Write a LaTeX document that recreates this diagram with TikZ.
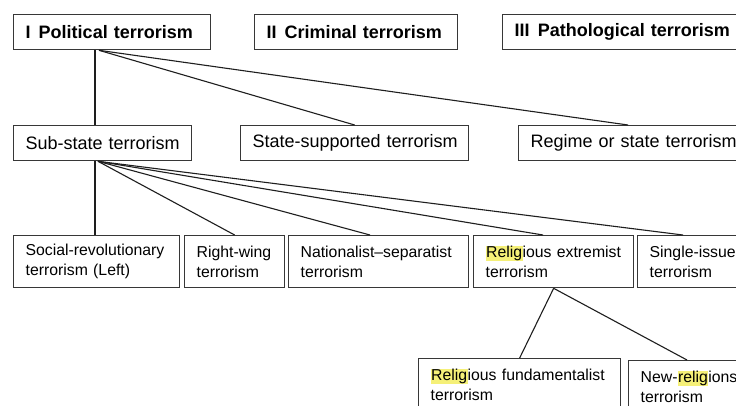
\documentclass[tikz,border=0pt]{standalone}
\usepackage{fontspec}
\setmainfont{Liberation Sans}
\definecolor{hlyellow}{RGB}{245,240,120}
\definecolor{boxline}{RGB}{55,55,55}
\definecolor{linkline}{RGB}{30,30,30}
\newcommand{\hlt}[1]{{\setlength{\fboxsep}{0.5pt}\colorbox{hlyellow}{#1}}}
\begin{document}
\begin{tikzpicture}[x=1pt,y=-1pt,
  box/.style={draw=boxline,line width=1.3pt,anchor=north west,inner xsep=12pt,inner ysep=0pt,
    align=left,execute at begin node={\hyphenpenalty=10000\exhyphenpenalty=10000}},
  topbox/.style={box,minimum height=35pt,font=\fontsize{18}{22}\selectfont\bfseries},
  midbox/.style={box,minimum height=35pt,font=\fontsize{18}{22}\selectfont},
  lowbox/.style={box,minimum height=52pt,font=\fontsize{15.8}{20}\selectfont},
  link/.style={draw=linkline,line width=1.1pt}]
\clip (0,0) rectangle (736,405);
\fill[white] (0,0) rectangle (736,405);
\node[topbox,text width=173pt] (pol) at (13,14) {I\hspace{0.45em}Political~terrorism};
\node[topbox,text width=179pt] (cri) at (254,14) {II\hspace{0.45em}Criminal~terrorism};
\node[topbox,text width=226pt] (pat) at (502,14) {III\hspace{0.45em}Pathological~terrorism};
\node[midbox,text width=154pt] (sub) at (13,125) {Sub-state~terrorism};
\node[midbox,text width=204pt] (sst) at (240,125) {State-supported~terrorism};
\node[midbox,text width=220pt] (reg) at (518,125) {Regime~or~state~terrorism};
\node[lowbox,text width=142pt] (soc) at (13,235) {Social-revolutionary\\terrorism~(Left)};
\node[lowbox,text width=76pt] (rgt) at (184,235) {Right-wing\\terrorism};
\node[lowbox,text width=156pt] (nat) at (288,235) {Nationalist--separatist\\terrorism};
\node[lowbox,text width=136pt] (rel) at (473,235) {\hlt{Relig}ious~extremist\\terrorism};
\node[lowbox,text width=120pt] (sin) at (637,235) {Single-issue\\terrorism};
\node[lowbox,text width=178pt] (fun) at (418,358) {\hlt{Relig}ious~fundamentalist\\terrorism};
\node[lowbox,text width=140pt] (new) at (628,360) {New-\hlt{relig}ions\\terrorism};
\draw[link] ([xshift=82pt]pol.south west) -- ([xshift=82pt]sub.north west);
\draw[link] ([xshift=86pt]pol.south west) -- (sst.north);
\draw[link] ([xshift=86pt]pol.south west) -- ([xshift=110pt]reg.north west);
\draw[link] ([xshift=82pt]sub.south west) -- ([xshift=82pt]soc.north west);
\draw[link] ([xshift=85pt]sub.south west) -- (rgt.north);
\draw[link] ([xshift=85pt]sub.south west) -- ([xshift=82pt]nat.north west);
\draw[link] ([xshift=85pt]sub.south west) -- ([xshift=70pt]rel.north west);
\draw[link] ([xshift=85pt]sub.south west) -- ([xshift=46pt]sin.north west);
\draw[link] (rel.south) -- (fun.north);
\draw[link] (rel.south) -- ([xshift=59pt]new.north west);
\end{tikzpicture}
\end{document}
